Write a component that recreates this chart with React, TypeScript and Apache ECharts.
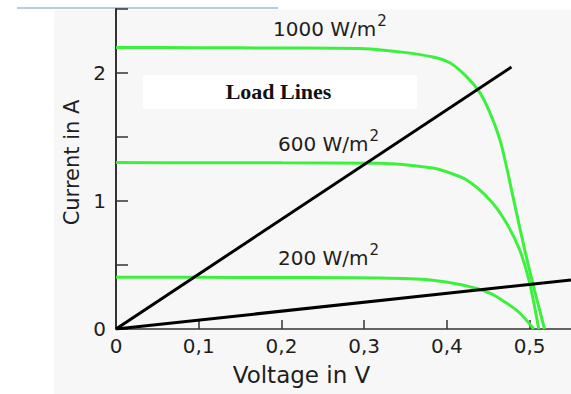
import React, { useEffect, useRef } from 'react';
import * as echarts from 'echarts';

// I-V curves of a solar cell at three irradiances: [voltage V, current A]
const curve1000: [number, number][] = [
  [0, 2.2], [0.1, 2.198], [0.2, 2.195], [0.3, 2.19], [0.343, 2.165], [0.383, 2.125],
  [0.404, 2.078], [0.424, 1.97], [0.44, 1.845], [0.452, 1.69], [0.464, 1.48],
  [0.472, 1.27], [0.48, 1.03], [0.494, 0.62], [0.506, 0.3], [0.518, 0],
];
const curve600: [number, number][] = [
  [0, 1.3], [0.1, 1.299], [0.2, 1.298], [0.32, 1.295], [0.383, 1.258], [0.4, 1.227],
  [0.424, 1.164], [0.452, 1.008], [0.472, 0.828], [0.488, 0.617], [0.5, 0.36], [0.511, 0],
];
const curve200: [number, number][] = [
  [0, 0.405], [0.1, 0.404], [0.2, 0.402], [0.32, 0.398], [0.38, 0.383], [0.419, 0.344],
  [0.452, 0.281], [0.472, 0.203], [0.488, 0.125], [0.505, 0],
];
// Load lines (resistive loads) through the origin
const loadLineSteep: [number, number][] = [[0, 0], [0.478, 2.047]];
const loadLineFlat: [number, number][] = [[0, 0], [0.55, 0.383]];

// Axis ticks and labels
const xTicks = [0, 0.1, 0.2, 0.3, 0.4, 0.5];
const xTickLabels = ['0', '0,1', '0,2', '0,3', '0,4', '0,5'];
const yTicks = [0, 0.5, 1, 1.5, 2, 2.5];
const yLabelValues = [0, 1, 2];
const yTickLabels = ['0', '1', '2'];

const irradianceLabels = ['1000 W/m', '600 W/m', '200 W/m'];
const loadLinesTitle = 'Load Lines';

const SANS = '"DejaVu Sans", Verdana, sans-serif';
const GREEN = '#3ef03e';
const TEXT = '#1e1e1e';

function lookup(values: number[], labels: string[], v: number): string {
  const i = values.findIndex((t) => Math.abs(t - v) < 1e-9);
  return i >= 0 ? labels[i] : '';
}

function irradianceText(label: string, x: number, y: number) {
  return {
    type: 'text',
    x,
    y,
    z: 100,
    silent: true,
    style: {
      text: `{n|${label}}{s|2}`,
      align: 'left',
      verticalAlign: 'middle',
      rich: {
        n: { fontSize: 20, fontFamily: SANS, fill: TEXT },
        s: { fontSize: 15, fontFamily: SANS, fill: TEXT, padding: [0, 0, 16, 1] },
      },
    },
  };
}

export default function App() {
  const ref = useRef<HTMLDivElement>(null);

  useEffect(() => {
    if (!ref.current) return;
    const chart = echarts.init(ref.current, undefined, { renderer: 'svg' });

    const greenSeries = (name: string, data: [number, number][]) => ({
      name,
      type: 'line',
      data,
      showSymbol: false,
      symbol: 'none',
      smooth: 0.3,
      silent: true,
      z: 2,
      lineStyle: { color: GREEN, width: 3 },
    });
    const blackSeries = (name: string, data: [number, number][]) => ({
      name,
      type: 'line',
      data,
      showSymbol: false,
      symbol: 'none',
      silent: true,
      z: 3,
      lineStyle: { color: '#000', width: 3 },
    });

    chart.setOption({
      animation: false,
      backgroundColor: '#ffffff',
      grid: { left: 116, right: -1, top: 9, bottom: 65, containLabel: false },
      xAxis: {
        type: 'value',
        min: 0,
        max: 0.55,
        name: 'Voltage in V',
        nameLocation: 'middle',
        nameGap: 34,
        nameTextStyle: { fontSize: 23, fontFamily: SANS, color: TEXT, padding: [0, 84, 0, 0] },
        axisLine: { show: true, onZero: false, lineStyle: { color: '#333', width: 1.5 } },
        axisTick: { show: true, inside: true, length: 9, customValues: xTicks, lineStyle: { color: '#333', width: 1.5 } },
        axisLabel: {
          customValues: xTicks,
          formatter: (v: number) => lookup(xTicks, xTickLabels, v),
          fontSize: 20,
          fontFamily: SANS,
          color: TEXT,
          margin: 7,
        },
        splitLine: { show: false },
      },
      yAxis: {
        type: 'value',
        min: 0,
        max: 2.5,
        name: 'Current in A',
        nameLocation: 'middle',
        nameRotate: 90,
        nameGap: 20,
        nameTextStyle: { fontSize: 21, fontFamily: SANS, color: TEXT, padding: [0, 0, 0, 13] },
        axisLine: { show: true, onZero: false, lineStyle: { color: '#333', width: 2 } },
        axisTick: { show: true, inside: true, length: 12, customValues: yTicks, lineStyle: { color: '#333', width: 1.5 } },
        axisLabel: {
          customValues: yLabelValues,
          formatter: (v: number) => lookup(yLabelValues, yTickLabels, v),
          fontSize: 20,
          fontFamily: SANS,
          color: TEXT,
          margin: 10,
        },
        splitLine: { show: false },
      },
      graphic: {
        elements: [
          { type: 'rect', z: -100, silent: true, shape: { x: 54, y: 9.5, width: 517, height: 385 }, style: { fill: '#f7f7f7' } },
          { type: 'line', z: -99, silent: true, shape: { x1: 17, y1: 8, x2: 278, y2: 8 }, style: { stroke: '#9bbcd5', lineWidth: 1.5 } },
          { type: 'rect', z: -90, silent: true, shape: { x: 143, y: 75, width: 274, height: 34 }, style: { fill: '#ffffff' } },
          {
            type: 'text', z: 100, silent: true, x: 278.5, y: 91,
            style: { text: loadLinesTitle, font: 'bold 22px "Liberation Serif", "Times New Roman", serif', fill: '#111', align: 'center', verticalAlign: 'middle' },
          },
          irradianceText(irradianceLabels[0], 273, 29),
          irradianceText(irradianceLabels[1], 278, 144),
          irradianceText(irradianceLabels[2], 278, 258),
        ],
      },
      series: [
        greenSeries('1000 W/m²', curve1000),
        greenSeries('600 W/m²', curve600),
        greenSeries('200 W/m²', curve200),
        blackSeries('Load line 1', loadLineSteep),
        blackSeries('Load line 2', loadLineFlat),
      ],
    });

    return () => chart.dispose();
  }, []);

  return <div ref={ref} style={{ position: 'fixed', left: 0, top: 0, width: 571, height: 394 }} />;
}
